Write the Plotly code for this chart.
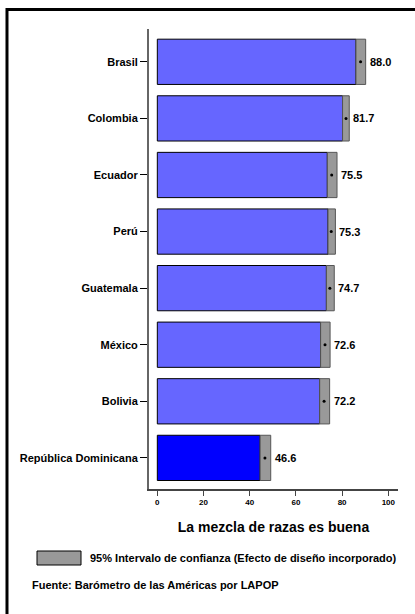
import plotly.graph_objects as go

countries = ["Brasil", "Colombia", "Ecuador", "Perú", "Guatemala", "México", "Bolivia",
             "República Dominicana"]
means = [88.0, 81.7, 75.5, 75.3, 74.7, 72.6, 72.2, 46.6]
ci_low = [86.0, 80.2, 73.6, 73.9, 73.2, 70.7, 70.3, 44.5]
ci_high = [90.2, 83.1, 77.8, 77.1, 76.6, 74.8, 74.6, 49.1]
bar_colors = ["#6666FF"] * 7 + ["#0000FF"]
x_ticks = [0, 20, 40, 60, 80, 100]

FONT = "Liberation Sans, Arial, sans-serif"

fig = go.Figure()
fig.add_bar(
    y=countries, x=ci_low, orientation="h", width=0.8,
    marker=dict(color=bar_colors, line=dict(color="black", width=1)),
    hoverinfo="skip",
)
fig.add_bar(
    y=countries, x=[h - l for h, l in zip(ci_high, ci_low)], base=ci_low,
    orientation="h", width=0.8,
    marker=dict(color="#999999", line=dict(color="#555555", width=1)),
    hoverinfo="skip",
)
fig.add_scatter(
    y=countries, x=means, mode="markers",
    marker=dict(color="black", size=3), hoverinfo="skip",
)
for c, m, h in zip(countries, means, ci_high):
    fig.add_annotation(
        x=h, y=c, text=f"<b>{m:.1f}</b>", showarrow=False,
        xanchor="left", yanchor="middle", xshift=2,
        font=dict(family=FONT, size=11, color="black"),
    )

fig.update_layout(
    width=415, height=614,
    margin=dict(l=149, r=17, t=29, b=125),
    paper_bgcolor="white", plot_bgcolor="white",
    barmode="overlay", showlegend=False,
    font=dict(family=FONT, color="black"),
)
fig.update_yaxes(
    type="category", categoryorder="array", categoryarray=countries,
    range=[7.55, -0.58],
    tickvals=countries, ticktext=[f"<b>{c}</b>" for c in countries],
    tickfont=dict(size=11, family=FONT, color="black"),
    ticks="outside", ticklen=7, tickcolor="black", tickwidth=1,
    showline=True, linecolor="#666666", linewidth=2,
    showgrid=False, zeroline=False,
)
fig.update_xaxes(
    range=[-3.6, 104.2],
    tickvals=x_ticks, ticktext=[f"<b>{t}</b>" for t in x_ticks],
    tickfont=dict(size=8, family=FONT, color="black"),
    ticks="outside", ticklen=5, tickcolor="#444444", tickwidth=1,
    showline=True, linecolor="#444444", linewidth=1.5,
    showgrid=False, zeroline=False,
    title=dict(text="<b>La mezcla de razas es buena</b>",
               font=dict(size=14, family=FONT, color="black"), standoff=16),
)

# outer frame
fig.add_shape(type="rect", xref="paper", yref="paper",
              x0=-0.5703, x1=1.2, y0=-0.4, y1=1.0424,
              line=dict(color="black", width=3), fillcolor="rgba(0,0,0,0)")
# legend swatch
fig.add_shape(type="rect", xref="paper", yref="paper",
              x0=(37 - 149) / 249, x1=(81 - 149) / 249,
              y0=1 - (565 - 29) / 460, y1=1 - (551 - 29) / 460,
              line=dict(color="black", width=1), fillcolor="#999999")
fig.add_annotation(
    xref="paper", yref="paper", x=(88 - 149) / 249, y=1 - (558 - 29) / 460,
    xanchor="left", yanchor="middle", showarrow=False,
    text="<b>95% Intervalo de confianza (Efecto de diseño incorporado)</b>",
    font=dict(size=11, family=FONT, color="black"),
)
fig.add_annotation(
    xref="paper", yref="paper", x=(30 - 149) / 249, y=1 - (585 - 29) / 460,
    xanchor="left", yanchor="middle", showarrow=False,
    text="<b>Fuente: Barómetro de las Américas por LAPOP</b>",
    font=dict(size=11, family=FONT, color="black"),
)

fig.write_html("out.html", config={"displayModeBar": False},
               post_script="document.body.style.margin='0';")
